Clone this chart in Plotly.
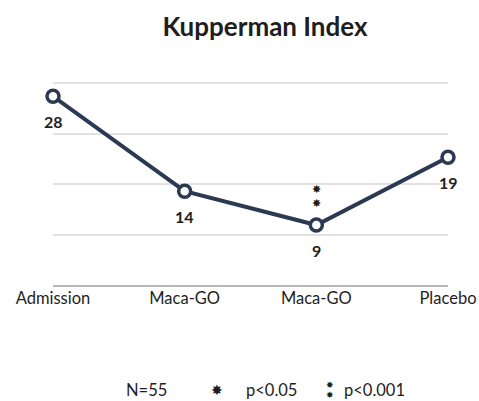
import plotly.graph_objects as go

categories = ["Admission", "Maca-GO", "Maca-GO", "Placebo"]
values = [28, 14, 9, 19]
y_ticks = [0, 7.5, 15, 22.5, 30]
footer_texts = ["N=55", "p<0.05", "p<0.001"]

x_idx = list(range(len(categories)))
NAVY = "#2b3a52"
FONT = "Lato"
TXT = "#1e1e1e"

fig = go.Figure()
fig.add_trace(go.Scatter(
    x=x_idx, y=values, mode="lines+markers",
    line=dict(color=NAVY, width=4),
    marker=dict(size=12, color="white", line=dict(color=NAVY, width=3.5)),
    cliponaxis=False, hoverinfo="skip", showlegend=False,
))

annotations = []
for xi, v in zip(x_idx, values):
    annotations.append(dict(x=xi, y=v, xref="x", yref="y", text=f"<b>{v}</b>",
                            showarrow=False, yshift=-25, xanchor="center",
                            font=dict(family=FONT, size=16, color=TXT)))
# significance stars above the second Maca-GO point
for ys in (36, 22):
    annotations.append(dict(x=2, y=values[2], xref="x", yref="y", text="✸",
                            showarrow=False, yshift=ys, xanchor="center", borderpad=0,
                            font=dict(family="DejaVu Sans", size=11, color=TXT)))


def px2paper(px):
    return (px - 53) / (448 - 53)


FY_PX = 390
PLOT_TOP, PLOT_BOT = 76, 286


def py2paper(py):
    return (PLOT_BOT - py) / (PLOT_BOT - PLOT_TOP)


FY = py2paper(FY_PX)
for t, fx in zip(footer_texts, [146, 271, 374]):
    annotations.append(dict(x=px2paper(fx), y=FY, xref="paper", yref="paper",
                            text=t, showarrow=False, yanchor="middle", xanchor="center",
                            font=dict(family=FONT, size=16.5, color=TXT)))
# legend stars
annotations.append(dict(x=px2paper(217), y=FY, xref="paper", yref="paper", text="✸",
                        showarrow=False, yanchor="middle", xanchor="center",
                        font=dict(family="DejaVu Sans", size=14, color=TXT)))
for ys in (5, -5):
    annotations.append(dict(x=px2paper(330), y=FY, xref="paper", yref="paper", text="✸",
                            showarrow=False, yanchor="middle", yshift=ys, xanchor="center",
                            borderpad=0, font=dict(family="DejaVu Sans", size=9, color=TXT)))

fig.update_layout(
    width=479, height=401,
    margin=dict(l=53, r=31, t=PLOT_TOP, b=401 - PLOT_BOT),
    paper_bgcolor="white", plot_bgcolor="white",
    title=dict(text="<b>Kupperman Index</b>", x=265 / 479, xanchor="center", y=1 - 27 / 401,
               yanchor="middle", font=dict(family=FONT, size=26, color=TXT)),
    xaxis=dict(range=[0, 3], tickvals=x_idx, ticktext=categories, showgrid=False,
               zeroline=False, showline=False, ticks="", ticklen=0, automargin=False,
               tickfont=dict(family=FONT, size=16.5, color=TXT)),
    yaxis=dict(range=[0, 31], tickvals=y_ticks, showticklabels=False, showgrid=True,
               gridcolor="#e2e2e2", gridwidth=1.5, zeroline=True, zerolinecolor="#b8b8b8",
               zerolinewidth=2, showline=False, automargin=False),
    annotations=annotations,
)
fig.write_html("out.html", config={"displayModeBar": False},
               post_script="document.body.style.margin='0';")
